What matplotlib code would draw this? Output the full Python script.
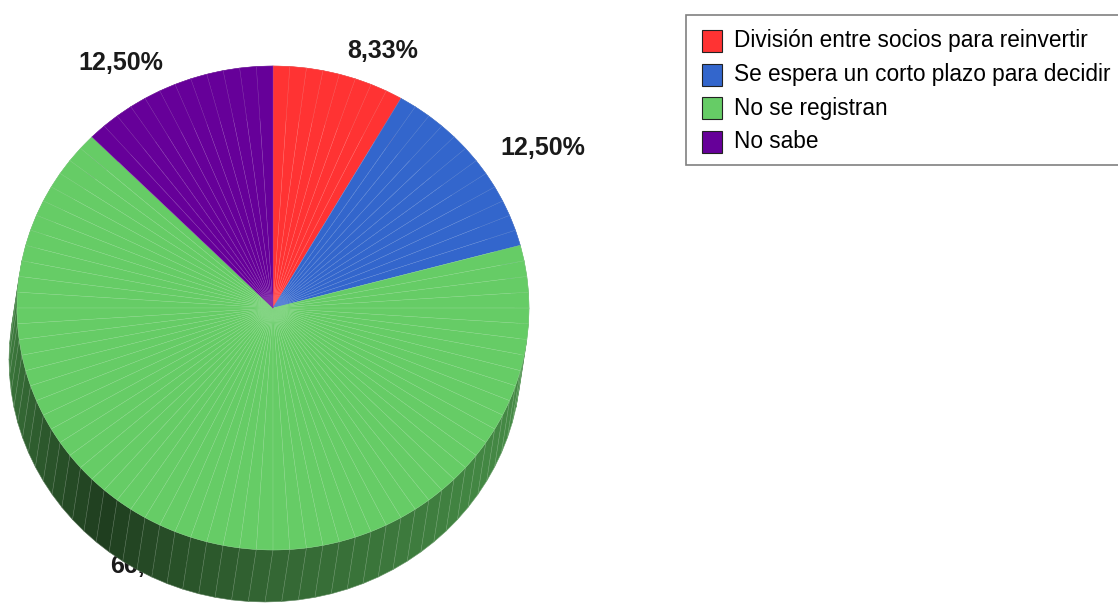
import numpy as np
import matplotlib.pyplot as plt
from matplotlib.patches import Polygon, Rectangle

# Pie data
labels = ['División entre socios para reinvertir', 'Se espera un corto plazo para decidir',
          'No se registran', 'No sabe']
values = [8.33, 12.50, 66.67, 12.50]
value_text = ['8,33%', '12,50%', '66,67%', '12,50%']
colors = ['#ff3333', '#3366cc', '#66cc66', '#660099']

# Geometry in pixel units (y grows downward)
cx, cy = 273, 308
rx, ry = 256, 242
depth_dx, depth_dy = -8, 52


def edge(theta):
    return cx + rx * np.cos(theta), cy - ry * np.sin(theta)


def darken(c, f):
    rgb = np.array(plt.matplotlib.colors.to_rgb(c))
    return tuple(rgb * f)


def lighten(c, f):
    rgb = np.array(plt.matplotlib.colors.to_rgb(c))
    return tuple(rgb + (1 - rgb) * f)


fig = plt.figure(figsize=(11.18, 6.03), dpi=100)
ax = fig.add_axes([0, 0, 1, 1])
ax.set_xlim(0, 1118)
ax.set_ylim(603, 0)
ax.axis('off')

# slice angles, clockwise from 12 o'clock
total = sum(values)
start = 90.0
spans = []
for v in values:
    sweep = 360.0 * v / total
    spans.append((start - sweep, start))
    start -= sweep

# percentage labels, drawn under the pie body
for (a0, a1), txt in zip(spans, value_text):
    mid = np.radians((a0 + a1) / 2)
    lx = cx + 1.12 * rx * np.cos(mid)
    ly = cy - 1.12 * ry * np.sin(mid)
    ly += 5 if np.sin(mid) > 0 else -4
    if np.cos(mid) < 0 and np.sin(mid) < 0:
        lx -= 4
    ax.text(lx, ly, txt, ha='left' if np.cos(mid) > 0 else 'right', va='center',
            fontsize=18, fontweight='bold', family='Liberation Sans',
            color='#1a1a1a', zorder=1)

# side wall, shaded by angle
step = 3.75
for (a0, a1), c in zip(spans, colors):
    n = max(1, int(round((a1 - a0) / step)))
    angs = np.linspace(a0, a1, n + 1)
    for t0, t1 in zip(angs[:-1], angs[1:]):
        tm = ((t0 + t1) / 2) % 360
        if tm < 150:
            tm += 360
        f = np.interp(tm, [150, 180, 205, 230, 270, 320, 380],
                      [0.62, 0.6, 0.45, 0.3, 0.5, 0.65, 0.72])
        p0 = edge(np.radians(t0))
        p1 = edge(np.radians(t1))
        quad = [p0, p1, (p1[0] + depth_dx, p1[1] + depth_dy),
                (p0[0] + depth_dx, p0[1] + depth_dy)]
        shade = darken(c, f)
        ax.add_patch(Polygon(quad, closed=True, facecolor=shade,
                             edgecolor=lighten(shade, 0.2), lw=0.4, zorder=2))

# top face
for (a0, a1), c in zip(spans, colors):
    n = max(1, int(round((a1 - a0) / step)))
    angs = np.linspace(a0, a1, n + 1)
    for t0, t1 in zip(angs[:-1], angs[1:]):
        tt = np.radians(np.linspace(t0, t1, 4))
        pts = [(cx, cy)] + [edge(t) for t in tt]
        ax.add_patch(Polygon(pts, closed=True, facecolor=c,
                             edgecolor=lighten(c, 0.22), lw=0.3, zorder=3))

# legend box
ax.add_patch(Rectangle((686, 15), 460, 150, facecolor='white',
                       edgecolor='#808080', lw=1.2, zorder=4))
for i, (lab, c) in enumerate(zip(labels, colors)):
    y = 41 + i * 33.5
    ax.add_patch(Rectangle((702, y - 11), 20, 22, facecolor=c,
                           edgecolor='#222222', lw=0.8, zorder=5))
    ax.text(734, y, lab, ha='left', va='center', fontsize=16.3,
            family='Liberation Sans', color='black', zorder=5)

fig.savefig('out.png', dpi=100)
